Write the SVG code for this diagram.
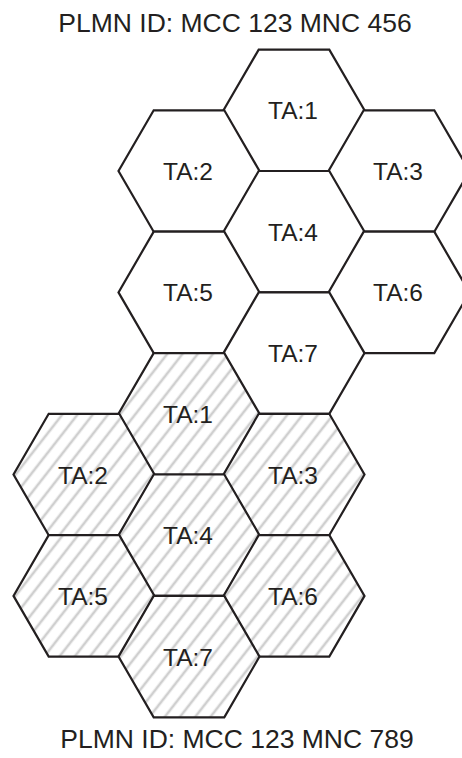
<svg xmlns="http://www.w3.org/2000/svg" xmlns:xlink="http://www.w3.org/1999/xlink" width="462" height="758" viewBox="0 0 462 758">
<defs>
<pattern id="hatch" patternUnits="userSpaceOnUse" width="12" height="12" patternTransform="rotate(38)">
<rect width="12" height="12" fill="#ffffff"/>
<line x1="6" y1="0" x2="6" y2="12" stroke="#cfcfcf" stroke-width="2.6"/>
</pattern>
<polygon id="hex" points="-35.3,-60.7 35.3,-60.7 70.5,0 35.3,60.7 -35.3,60.7 -70.5,0"/>
</defs>
<style>
.up use{fill:#ffffff;stroke:#231f20;stroke-width:2.2;stroke-linejoin:miter}
.lo use{fill:url(#hatch);stroke:#231f20;stroke-width:2.2;stroke-linejoin:miter}
text{font-family:"Liberation Sans",Arial,sans-serif;fill:#231f20;text-anchor:middle}
.lbl{font-size:24.5px}
.ttl{font-size:26.5px}
</style>
<rect width="462" height="758" fill="#ffffff"/>
<text class="ttl" x="235" y="32">PLMN ID: MCC 123 MNC 456</text>
<text class="ttl" x="237" y="748">PLMN ID: MCC 123 MNC 789</text>
<g class="up">
<g id="u1"><use xlink:href="#hex" x="294" y="110.3"/><text class="lbl" x="293" y="119.3">TA:1</text></g>
<g id="u2"><use xlink:href="#hex" x="189" y="171"/><text class="lbl" x="188" y="180">TA:2</text></g>
<g id="u3"><use xlink:href="#hex" x="399" y="171"/><text class="lbl" x="398" y="180">TA:3</text></g>
<g id="u4"><use xlink:href="#hex" x="294" y="231.7"/><text class="lbl" x="293" y="240.7">TA:4</text></g>
<g id="u5"><use xlink:href="#hex" x="189" y="292.4"/><text class="lbl" x="188" y="301.4">TA:5</text></g>
<g id="u6"><use xlink:href="#hex" x="399" y="292.4"/><text class="lbl" x="398" y="301.4">TA:6</text></g>
<g id="u7"><use xlink:href="#hex" x="294" y="353.1"/><text class="lbl" x="293" y="362.1">TA:7</text></g>
</g>
<g class="lo">
<g id="l1"><use xlink:href="#hex" x="189" y="413.8"/><text class="lbl" x="188" y="422.8">TA:1</text></g>
<g id="l2"><use xlink:href="#hex" x="84" y="474.5"/><text class="lbl" x="83" y="483.5">TA:2</text></g>
<g id="l3"><use xlink:href="#hex" x="294" y="474.5"/><text class="lbl" x="293" y="483.5">TA:3</text></g>
<g id="l4"><use xlink:href="#hex" x="189" y="535.2"/><text class="lbl" x="188" y="544.2">TA:4</text></g>
<g id="l5"><use xlink:href="#hex" x="84" y="595.9"/><text class="lbl" x="83" y="604.9">TA:5</text></g>
<g id="l6"><use xlink:href="#hex" x="294" y="595.9"/><text class="lbl" x="293" y="604.9">TA:6</text></g>
<g id="l7"><use xlink:href="#hex" x="189" y="656.6"/><text class="lbl" x="188" y="665.6">TA:7</text></g>
</g>
<g id="connectors"/>
</svg>
